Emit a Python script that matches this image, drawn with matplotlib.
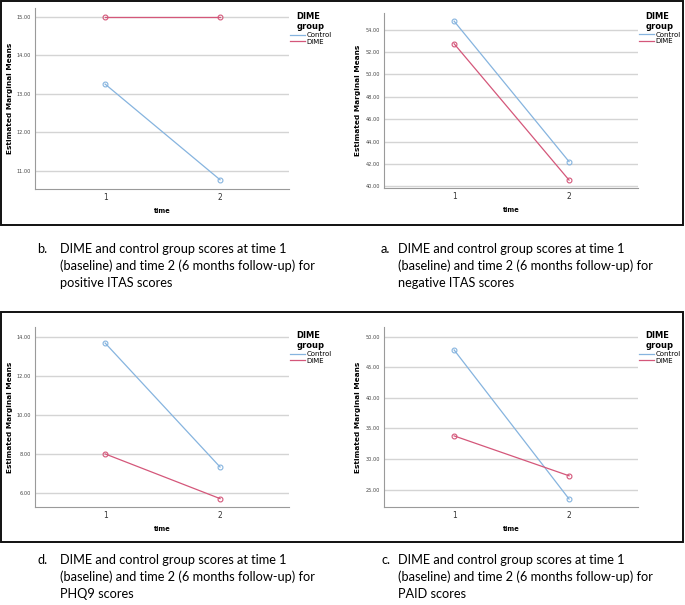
import matplotlib
matplotlib.use("Agg")
import matplotlib.pyplot as plt
from matplotlib.patches import Rectangle
from matplotlib.lines import Line2D

# data
time = [1, 2]
groups = ["Control", "DIME"]

pos_itas_control = [13.25, 10.76]
pos_itas_dime = [15.00, 15.00]
pos_itas_ticks = [11, 12, 13, 14, 15]

neg_itas_control = [54.77, 42.20]
neg_itas_dime = [52.75, 40.55]
neg_itas_ticks = [40, 42, 44, 46, 48, 50, 52, 54]

phq9_control = [13.68, 7.33]
phq9_dime = [8.00, 5.71]
phq9_ticks = [6, 8, 10, 12, 14]

paid_control = [47.83, 23.48]
paid_dime = [33.79, 27.27]
paid_ticks = [25, 30, 35, 40, 45, 50]

captions = [
    ("b.", "DIME and control group scores at time 1\n(baseline) and time 2 (6 months follow-up) for\npositive ITAS scores"),
    ("a.", "DIME and control group scores at time 1\n(baseline) and time 2 (6 months follow-up) for\nnegative ITAS scores"),
    ("d.", "DIME and control group scores at time 1\n(baseline) and time 2 (6 months follow-up) for\nPHQ9 scores"),
    ("c.", "DIME and control group scores at time 1\n(baseline) and time 2 (6 months follow-up) for\nPAID scores"),
]

W, H = 685, 605
col_control = "#86b4df"
col_dime = "#d4577a"
grid_col = "#d4d4d4"
spine_col = "#9a9a9a"

fig = plt.figure(figsize=(W / 100, H / 100), dpi=100)
fig.patch.set_facecolor("white")


def px_axes(x0, y0, x1, y1):
    # pixel box (top-left origin) -> figure axes
    return fig.add_axes([x0 / W, 1 - y1 / H, (x1 - x0) / W, (y1 - y0) / H])


def panel(box, control, dime, ticks, ylim, ylab_x, leg_y):
    ax = px_axes(*box)
    ax.plot(time, control, color=col_control, lw=0.9, marker="o", ms=3.5,
            mfc="none", mec=col_control, mew=0.8, zorder=3)
    ax.plot(time, dime, color=col_dime, lw=0.9, marker="o", ms=3.5,
            mfc="none", mec=col_dime, mew=0.8, zorder=3)
    ax.set_xlim(0.39, 2.6)
    ax.set_ylim(*ylim)
    ax.set_xticks(time)
    ax.set_xticklabels([str(t) for t in time], fontsize=5.5, color="#333333")
    ax.set_yticks(ticks)
    ax.set_yticklabels(["%.2f" % t for t in ticks], fontsize=3.6, color="#444444")
    ax.tick_params(length=0, pad=3)
    ax.yaxis.grid(True, color=grid_col, lw=1.0)
    ax.set_axisbelow(True)
    for s in ["top", "right"]:
        ax.spines[s].set_visible(False)
    for s in ["left", "bottom"]:
        ax.spines[s].set_color(spine_col)
        ax.spines[s].set_linewidth(0.8)
    ax.set_xlabel("time", fontsize=4.8, fontweight="bold", labelpad=4)
    ax.set_ylabel("Estimated Marginal Means", fontsize=5.3, fontweight="bold")
    ax.yaxis.set_label_coords(ylab_x, 0.5)
    handles = [Line2D([], [], color=col_control, lw=0.9),
               Line2D([], [], color=col_dime, lw=0.9)]
    leg = ax.legend(handles, groups, title="DIME\ngroup", loc="upper left",
                    bbox_to_anchor=(0.995, leg_y), frameon=False, fontsize=5.0,
                    title_fontproperties={"size": 6.0, "weight": "bold"},
                    handlelength=2.2, handletextpad=0.15, labelspacing=0.1,
                    borderaxespad=0.1, borderpad=0.2)
    leg._legend_box.align = "center"
    return ax


panel((35, 8, 289, 189), pos_itas_control, pos_itas_dime, pos_itas_ticks, (10.52, 15.23), -0.085, 0.99)
panel((384, 13, 638, 188), neg_itas_control, neg_itas_dime, neg_itas_ticks, (39.84, 55.5), -0.09, 1.02)
panel((35, 327, 289, 507), phq9_control, phq9_dime, phq9_ticks, (5.28, 14.5), -0.085, 0.99)
panel((384, 327, 638, 507), paid_control, paid_dime, paid_ticks, (22.17, 51.58), -0.09, 0.99)

# black frames round each row of plots
for (x0, y0, x1, y1) in [(1, 1, 683, 225), (1, 312, 683, 542)]:
    fig.patches.append(Rectangle((x0 / W, 1 - y1 / H), (x1 - x0) / W, (y1 - y0) / H,
                                 transform=fig.transFigure, fill=False,
                                 edgecolor="#111111", lw=1.4))

cap_font = ["Lato", "DejaVu Sans"]
cap_pos = [(37, 60, 243), (381, 398, 243), (37, 60, 554), (381, 398, 554)]
for (letter, text), (xl, xt, y) in zip(captions, cap_pos):
    fig.text(xl / W, 1 - y / H, letter, fontsize=9.2, family=cap_font, va="top")
    fig.text(xt / W, 1 - y / H, text, fontsize=9.2, family=cap_font, va="top",
             linespacing=1.45)

fig.savefig("out.png", dpi=100)
